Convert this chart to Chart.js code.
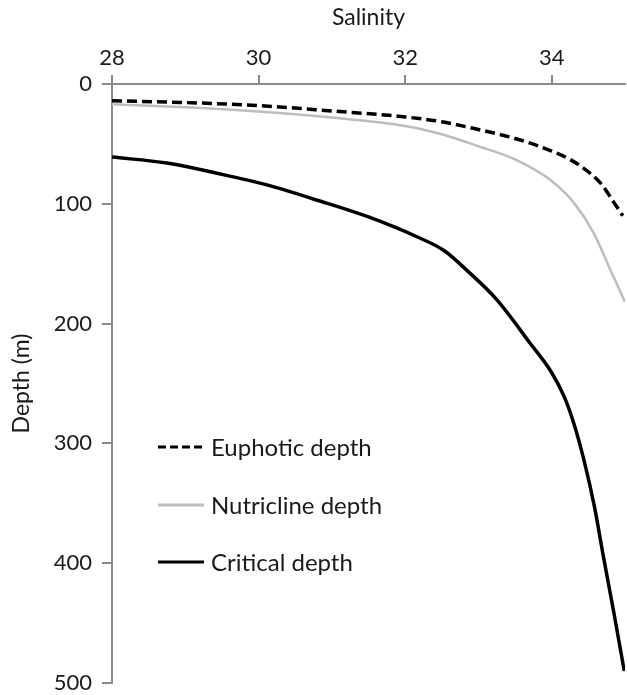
<!DOCTYPE html>
<html>
<head>
<meta charset="utf-8">
<script src="https://cdn.jsdelivr.net/npm/chart.js@4.4.1/dist/chart.umd.min.js"></script>
<style>
  html, body { margin: 0; padding: 0; background: #fff; }
  #wrap { width: 627px; height: 695px; position: relative; }
</style>
</head>
<body>
<div id="wrap"><canvas id="mychart"></canvas></div>
<script>
'use strict';

// values: salinity (x) and depth in m (y)
const euphoticSal   = [28, 29, 30, 31, 32, 32.5, 33, 33.5, 34, 34.25, 34.45, 34.67, 34.85, 34.97];
const euphoticDepth = [14, 15.5, 18, 22.5, 27.5, 31.5, 38, 45.5, 56, 63, 71, 83, 99, 110];

const nutriSal   = [28, 29, 30, 31, 32, 32.5, 33, 33.5, 34, 34.3, 34.57, 34.8, 35];
const nutriDepth = [17, 19.5, 23, 28, 35, 42, 52, 63, 81, 99, 124, 155, 182];

const criticalSal   = [28, 28.75, 29.43, 30.1, 30.8, 31.5, 32.16, 32.53, 32.85, 33.25, 33.7, 34, 34.17, 34.3, 34.44, 34.58, 34.71, 34.85, 34.99];
const criticalDepth = [61, 66, 74.5, 84, 97, 111, 127.5, 139, 156, 180, 216, 241, 261, 283, 314, 352, 396, 442, 490];

const salinityTicks = [28, 30, 32, 34];
const depthTicks = [0, 100, 200, 300, 400, 500];

const seriesNames = ['Euphotic depth', 'Nutricline depth', 'Critical depth'];

const FONT = 'Lato, "Open Sans", sans-serif';
const AXIS = '#8a8a8a';
const INK = '#1a1a1a';

function pts(xs, ys) {
    return xs.map((x, i) => ({ x: x, y: ys[i] }));
}

// legend drawn inside the plot, left-middle
const innerLegend = {
    id: 'innerLegend',
    afterDraw(chart) {
        const ctx = chart.ctx;
        const rows = [447, 505, 562];
        ctx.save();
        chart.data.datasets.forEach((ds, i) => {
            const y = rows[i];
            ctx.beginPath();
            ctx.strokeStyle = ds.borderColor;
            ctx.lineWidth = 3;
            ctx.setLineDash(ds.borderDash ? [8, 4] : []);
            ctx.moveTo(158, y);
            ctx.lineTo(204, y);
            ctx.stroke();
            ctx.setLineDash([]);
            ctx.fillStyle = INK;
            ctx.font = '24px ' + FONT;
            ctx.textBaseline = 'middle';
            ctx.fillText(ds.label, 211, y + 1);
        });
        ctx.restore();
    }
};

const data = {
    datasets: [{
        label: seriesNames[0],
        data: pts(euphoticSal, euphoticDepth),
        borderColor: '#000',
        borderWidth: 3.5,
        borderDash: [10, 5],
    }, {
        label: seriesNames[1],
        data: pts(nutriSal, nutriDepth),
        borderColor: '#bdbdbd',
        borderWidth: 2.5,
    }, {
        label: seriesNames[2],
        data: pts(criticalSal, criticalDepth),
        borderColor: '#000',
        borderWidth: 3.5,
    }],
};

data.datasets.forEach(ds => {
    ds.showLine = true;
    ds.pointRadius = 0;
    ds.cubicInterpolationMode = 'monotone';
    ds.fill = false;
});

const $canvas = document.getElementById('mychart');
const graph = new Chart($canvas, {
    type: 'scatter',
    data: data,
    plugins: [innerLegend],
    options: {
        responsive: true,
        maintainAspectRatio: false,
        animation: false,
        layout: { padding: { top: 0, right: 2, bottom: 12, left: 0 } },
        plugins: {
            legend: { display: false },
            tooltip: { enabled: false },
        },
        scales: {
            x: {
                type: 'linear',
                position: 'top',
                min: 28,
                max: 35,
                afterBuildTicks: s => { s.ticks = salinityTicks.map(v => ({ value: v })); },
                afterFit: s => { s.height = 84; s.paddingLeft = 0; s.paddingRight = 0; },
                title: {
                    display: true,
                    text: 'Salinity',
                    color: INK,
                    font: { family: FONT, size: 23 },
                    padding: { top: 4, bottom: 2 },
                },
                ticks: {
                    color: INK,
                    font: { family: FONT, size: 22 },
                    padding: 4,
                    maxRotation: 0,
                },
                grid: { drawOnChartArea: false, drawTicks: true, tickLength: 9, color: AXIS, lineWidth: 2 },
                border: { display: true, color: AXIS, width: 2 },
            },
            y: {
                type: 'linear',
                reverse: true,
                min: 0,
                max: 500,
                afterBuildTicks: s => { s.ticks = depthTicks.map(v => ({ value: v })); },
                afterFit: s => { s.width = 112; s.paddingTop = 0; s.paddingBottom = 0; },
                title: {
                    display: true,
                    text: 'Depth (m)',
                    color: INK,
                    font: { family: FONT, size: 23 },
                    padding: { top: 8, bottom: 4 },
                },
                ticks: {
                    color: INK,
                    font: { family: FONT, size: 22 },
                    padding: 10,
                },
                grid: { drawOnChartArea: false, drawTicks: true, tickLength: 10, color: AXIS, lineWidth: 2 },
                border: { display: true, color: AXIS, width: 2 },
            },
        },
    },
});
</script>
</body>
</html>
